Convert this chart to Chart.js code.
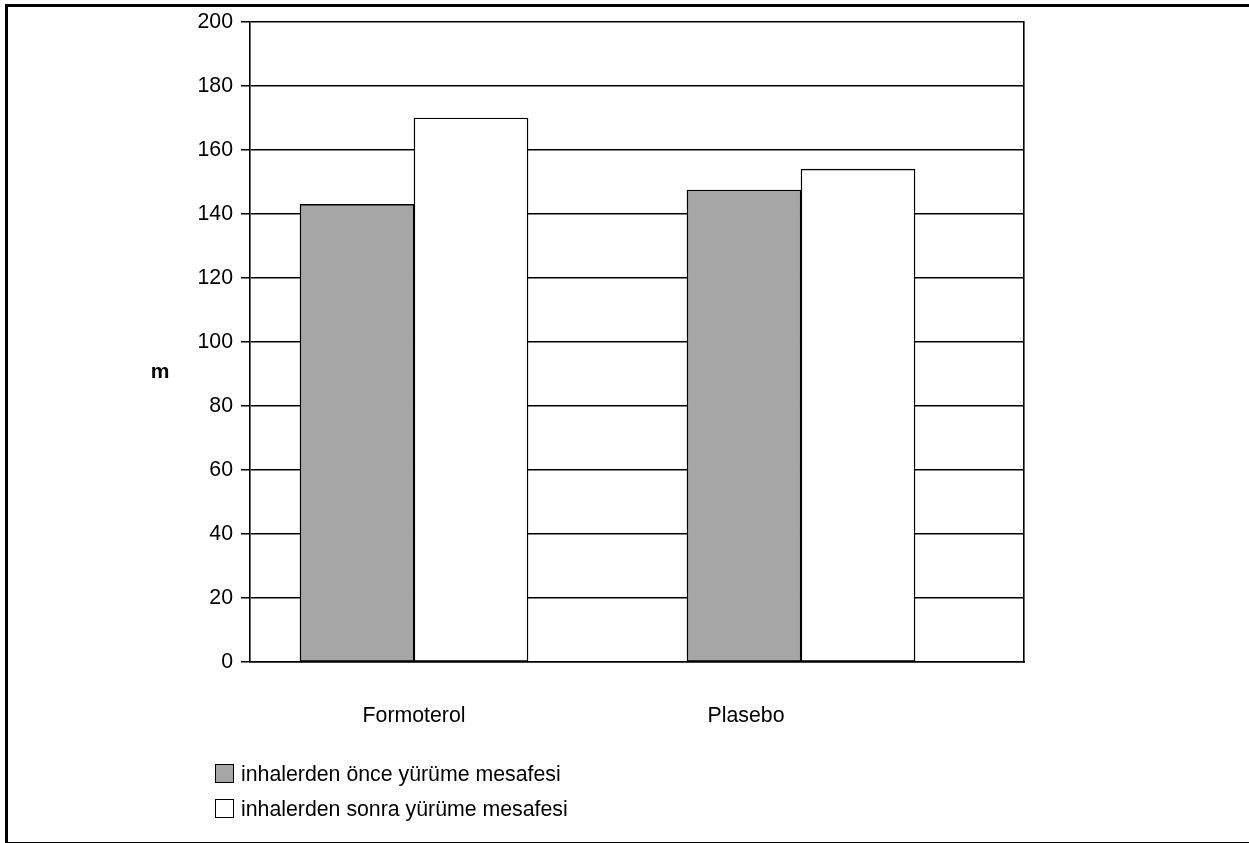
<!DOCTYPE html>
<html><head><meta charset="utf-8">
<script src="https://cdn.jsdelivr.net/npm/chart.js@4.4.1/dist/chart.umd.min.js"></script>
<style>
html,body{margin:0;padding:0;background:#fff;overflow:hidden;}
#wrap{position:relative;width:1249px;height:843px;}
#frame{position:absolute;left:5px;top:4px;width:1400px;height:841px;border:3px solid #000;box-sizing:border-box;pointer-events:none;}
canvas{position:absolute;left:0;top:0;}
</style></head><body>
<div id="wrap"><canvas id="c" width="1249" height="843"></canvas><div id="frame"></div></div>
<script>
// ---- data ----
const categories = ['Formoterol', 'Plasebo'];
const seriesNames = ['inhalerden önce yürüme mesafesi', 'inhalerden sonra yürüme mesafesi'];
const beforeValues = [143, 147.5];
const afterValues = [170, 154];
const yAxisLabel = 'm';
const yTickValues = [0, 20, 40, 60, 80, 100, 120, 140, 160, 180, 200];

// ---- layout / style ----
const FONT = '"Liberation Sans", Arial, Helvetica, sans-serif';
const X_MIN = -0.4238, X_MAX = 1.5762;
const labelSlots = [0, 0.858];
const colors = ['#a6a6a6', '#ffffff'];

Chart.defaults.font.family = FONT;
Chart.defaults.font.size = 21.3;
Chart.defaults.color = '#000';

const extras = {
  id: 'extras',
  afterDraw(chart) {
    const ctx = chart.ctx, a = chart.chartArea;
    ctx.save();
    ctx.fillStyle = '#000';
    ctx.font = 'bold 21px ' + FONT;
    ctx.textAlign = 'center';
    ctx.textBaseline = 'middle';
    ctx.fillText(yAxisLabel, a.left - 90, a.top + 350);
    ctx.font = '21.3px ' + FONT;
    ctx.textAlign = 'left';
    chart.data.datasets.forEach((ds, i) => {
      const y = a.bottom + 112 + i * 35;
      ctx.fillStyle = ds.backgroundColor;
      ctx.fillRect(215.5, y - 9.5, 18, 18);
      ctx.lineWidth = 1;
      ctx.strokeStyle = '#000';
      ctx.strokeRect(215.5, y - 9.5, 18, 18);
      ctx.fillStyle = '#000';
      ctx.fillText(ds.label, 241, y + 1);
    });
    ctx.restore();
  }
};

new Chart(document.getElementById('c'), {
  type: 'bar',
  data: {
    datasets: [
      { label: seriesNames[0], data: beforeValues.map((v, i) => ({ x: i, y: v })),
        backgroundColor: colors[0], borderColor: '#000', borderWidth: 1.4, borderSkipped: false,
        barThickness: 114 },
      { label: seriesNames[1], data: afterValues.map((v, i) => ({ x: i, y: v })),
        backgroundColor: colors[1], borderColor: '#000', borderWidth: 1.4, borderSkipped: false,
        barThickness: 114 }
    ]
  },
  options: {
    responsive: false,
    animation: false,
    devicePixelRatio: 1,
    events: [],
    layout: { padding: { top: 22, left: 0, right: 0, bottom: 0 } },
    plugins: { legend: { display: false }, tooltip: { enabled: false } },
    scales: {
      x: {
        type: 'linear', position: 'bottom', min: X_MIN, max: X_MAX, offset: false,
        grid: { display: false, drawTicks: false, tickLength: 0 },
        border: { display: true, color: '#000', width: 1.6 },
        afterBuildTicks: s => { s.ticks = labelSlots.map(v => ({ value: v })); },
        ticks: { padding: 41, autoSkip: false, maxRotation: 0,
          callback: (v, i) => categories[i] },
        afterFit: s => { s.height = 181; }
      },
      y: {
        type: 'linear', position: 'left', min: 0, max: 200,
        afterBuildTicks: s => { s.ticks = yTickValues.map(v => ({ value: v })); },
        grid: { color: '#000', lineWidth: 1.5, drawTicks: true, tickLength: 9 },
        border: { display: true, color: '#000', width: 1.6 },
        ticks: { padding: 8 },
        afterFit: s => { s.width = 250; }
      },
      yR: {
        type: 'linear', position: 'right', display: true,
        ticks: { display: false },
        grid: { display: false, drawTicks: false },
        border: { display: true, color: '#000', width: 1.6 },
        afterFit: s => { s.width = 225; }
      }
    }
  },
  plugins: [extras]
});
</script>
</body></html>
